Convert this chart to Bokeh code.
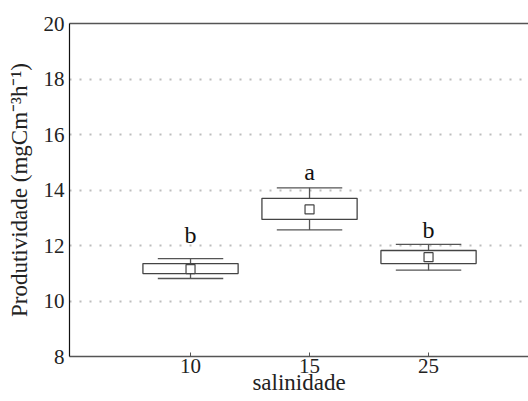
from bokeh.plotting import figure
from bokeh.models import Range1d, FixedTicker, LinearAxis, ColumnDataSource
from bokeh.core.properties import value
from bokeh.embed import file_html
from bokeh.resources import INLINE

# data
categories = ["10", "15", "25"]
whisker_low = [10.81, 12.56, 11.11]
box_low = [10.99, 12.94, 11.35]
box_high = [11.35, 13.70, 11.82]
whisker_high = [11.53, 14.08, 12.04]
means = [11.15, 13.30, 11.58]
letters = ["b", "a", "b"]
letter_y = [12.05, 14.33, 12.23]
y_ticks = [8, 10, 12, 14, 16, 18, 20]

pos = [i + 1 for i in range(len(categories))]
BOX_W = 0.8
CAP_W = 0.55

src = ColumnDataSource(dict(
    x=pos, wl=whisker_low, bl=box_low, bh=box_high, wh=whisker_high,
    m=means, lab=letters, ly=letter_y,
    cx0=[p - CAP_W / 2 for p in pos], cx1=[p + CAP_W / 2 for p in pos],
))

FONT = "'Liberation Serif', 'Times New Roman', serif"
LFONT = "Times New Roman"

p = figure(width=528, height=401, output_backend="svg", toolbar_location=None,
           x_range=Range1d(-0.017, 3.84), y_range=Range1d(8, 20),
           min_border_left=69, min_border_right=0, min_border_top=23,
           min_border_bottom=45)
p.outline_line_color = None
p.background_fill_color = "white"
p.border_fill_color = "white"

# grid
p.xgrid.visible = False
p.ygrid.ticker = FixedTicker(ticks=[10, 12, 14, 16, 18])
p.ygrid.grid_line_color = "#bdbdbd"
p.ygrid.grid_line_dash = "2 8"
p.ygrid.grid_line_width = 2

# whiskers
p.segment(x0="x", y0="wl", x1="x", y1="bl", source=src, line_color="#555555", line_width=1.3)
p.segment(x0="x", y0="bh", x1="x", y1="wh", source=src, line_color="#555555", line_width=1.3)
p.segment(x0="cx0", y0="wl", x1="cx1", y1="wl", source=src, line_color="#555555", line_width=1.3)
p.segment(x0="cx0", y0="wh", x1="cx1", y1="wh", source=src, line_color="#555555", line_width=1.3)
# boxes
p.vbar(x="x", width=BOX_W, bottom="bl", top="bh", source=src,
       fill_color="white", line_color="#444444", line_width=1.3)
# means
p.scatter(x="x", y="m", source=src, marker="square", size=9,
          fill_color="white", line_color="#444444", line_width=1.2)
# letters
p.text(x="x", y="ly", text="lab", source=src, text_align="center",
       text_baseline="alphabetic", text_font=value(LFONT),
       text_font_size="24px", text_color="#111111", y_offset=-9)

# axes
xa = p.xaxis[0]
xa.ticker = FixedTicker(ticks=pos)
xa.major_label_overrides = {p_: c for p_, c in zip(pos, categories)}
xa.axis_label = "salinidade"
xa.axis_line_color = "#555555"
xa.axis_line_width = 1.5
xa.major_tick_in = 4
xa.major_tick_out = 0
xa.major_tick_line_color = "#555555"
xa.minor_tick_line_color = None
xa.major_label_standoff = 2
xa.axis_label_standoff = -6
xa.major_label_text_font = FONT
xa.major_label_text_font_size = "21px"
xa.major_label_text_color = "#222222"
xa.axis_label_text_font = LFONT
xa.axis_label_text_font_size = "23px"
xa.axis_label_text_font_style = "normal"
xa.axis_label_text_color = "#222222"

ya = p.yaxis[0]
ya.ticker = FixedTicker(ticks=y_ticks)
ya.axis_label = "Produtividade (mgCm\u207b\u00b3h\u207b\u00b9)"
ya.axis_line_color = "#111111"
ya.axis_line_width = 1.2
ya.major_tick_in = 0
ya.major_tick_out = 0
ya.minor_tick_line_color = None
ya.major_label_standoff = 5
ya.axis_label_standoff = 9
ya.major_label_text_font = FONT
ya.major_label_text_font_size = "21px"
ya.major_label_text_color = "#222222"
ya.axis_label_text_font = LFONT
ya.axis_label_text_font_size = "23px"
ya.axis_label_text_font_style = "normal"
ya.axis_label_text_color = "#222222"

top = LinearAxis(ticker=FixedTicker(ticks=[]), axis_line_color="#555555",
                 axis_line_width=1.5, major_label_text_font_size="0px",
                 major_tick_line_color=None, minor_tick_line_color=None)
p.add_layout(top, "above")

open("out.html", "w").write(file_html(p, INLINE))
